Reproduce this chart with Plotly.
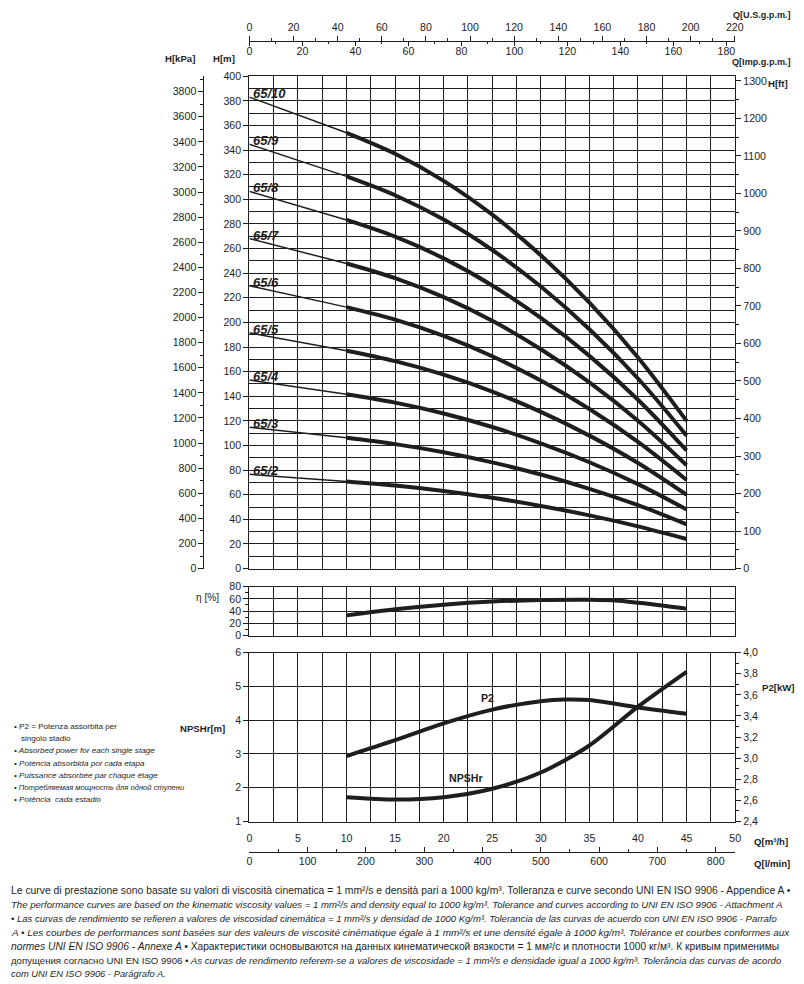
import plotly.graph_objects as go

# ---------------- DATA ----------------
Q_THIN = [0, 10]
Q_THICK = [10, 15, 20, 25, 30, 35, 40, 45]

MODELS = ["65/2", "65/3", "65/4", "65/5", "65/6", "65/7", "65/8", "65/9", "65/10"]

H_THIN_65_2 = [76.6, 70.8]
H_THIN_65_3 = [114.9, 106.2]
H_THIN_65_4 = [153.2, 141.6]
H_THIN_65_5 = [191.5, 177.0]
H_THIN_65_6 = [229.8, 212.4]
H_THIN_65_7 = [268.1, 247.8]
H_THIN_65_8 = [306.4, 283.2]
H_THIN_65_9 = [344.7, 318.6]
H_THIN_65_10 = [383.0, 354.0]

H_THICK_65_2 = [70.8, 67.4, 63.0, 57.5, 50.9, 43.2, 34.3, 24.0]
H_THICK_65_3 = [106.2, 101.1, 94.5, 86.3, 76.4, 64.8, 51.5, 36.0]
H_THICK_65_4 = [141.6, 134.8, 126.0, 115.0, 101.8, 86.4, 68.6, 48.0]
H_THICK_65_5 = [177.0, 168.5, 157.5, 143.8, 127.3, 108.0, 85.8, 60.0]
H_THICK_65_6 = [212.4, 202.2, 189.0, 172.5, 152.7, 129.6, 102.9, 72.0]
H_THICK_65_7 = [247.8, 235.9, 220.5, 201.3, 178.2, 151.2, 120.1, 84.0]
H_THICK_65_8 = [283.2, 269.6, 252.0, 230.0, 203.6, 172.8, 137.2, 96.0]
H_THICK_65_9 = [318.6, 303.3, 283.5, 258.8, 229.1, 194.4, 154.4, 108.0]
H_THICK_65_10 = [354.0, 337.0, 315.0, 287.5, 254.5, 216.0, 171.5, 120.0]

H_THIN = [H_THIN_65_2, H_THIN_65_3, H_THIN_65_4, H_THIN_65_5, H_THIN_65_6,
          H_THIN_65_7, H_THIN_65_8, H_THIN_65_9, H_THIN_65_10]
H_THICK = [H_THICK_65_2, H_THICK_65_3, H_THICK_65_4, H_THICK_65_5, H_THICK_65_6,
           H_THICK_65_7, H_THICK_65_8, H_THICK_65_9, H_THICK_65_10]

Q_ETA = [10, 15, 20, 25, 30, 35, 38, 41, 45]
ETA = [33, 43, 50.5, 55.5, 58, 58.5, 57, 52, 44]

Q_NPSH = [10, 15, 20, 25, 30, 35, 40, 45]
NPSH = [1.72, 1.65, 1.72, 1.97, 2.45, 3.25, 4.4, 5.43]

Q_P2 = [10, 15, 20, 25, 30, 32.5, 35, 40, 45]
P2 = [3.02, 3.17, 3.33, 3.46, 3.54, 3.555, 3.55, 3.48, 3.42]

BULLET_TEXT = [
    "• P2 = Potenza assorbita per",
    "singolo stadio",
    "• Absorbed power for each single stage",
    "• Potencia absorbida por cada etapa",
    "• Puissance absorbée par chaque étage",
    "• Потребляемая мощность для одной ступени",
    "• Potência  cada estadio",
]
BULLET_ITALIC = [False, False, True, True, True, True, True]

FOOTER = [
    "Le curve di prestazione sono basate su valori di viscosità cinematica = 1 mm²/s e densità pari a 1000 kg/m³. Tolleranza e curve secondo UNI EN ISO 9906 - Appendice A •",
    "<i>The performance curves are based on the kinematic viscosity values = 1 mm²/s and density equal to 1000 kg/m³. Tolerance and curves according to UNI EN ISO 9906 - Attachment A</i>",
    "<i>• Las curvas de rendimiento se refieren a valores de viscosidad cinemática = 1 mm²/s y densidad de 1000 Kg/m³. Tolerancia de las curvas de acuerdo con UNI EN ISO 9906 - Parrafo</i>",
    "<i>A • Les courbes de performances sont basées sur des valeurs de viscosité cinématique égale à 1 mm²/s et une densité égale à 1000 kg/m³. Tolérance et courbes conformes aux</i>",
    "<i>normes UNI EN ISO 9906 - Annexe A •</i> Характеристики основываются на данных кинематической вязкости = 1 мм²/с и плотности 1000 кг/м³. К кривым применимы",
    "допущения согласно UNI EN ISO 9906 <i>• As curvas de rendimento referem-se a valores de viscosidade = 1 mm²/s e densidade igual a 1000 kg/m³. Tolerância das curvas de acordo</i>",
    "<i>com UNI EN ISO 9906 - Parágrafo A.</i>",
]
FOOTER_SIZE = [10.35, 9.6, 9.5, 9.95, 10.25, 9.65, 9.4]

# unit conversions (axis scales)
Q_MAX = 50
H_MAX = 400
US_GPM = 4.40287
IMP_GPM = 3.66615
L_MIN = 16.6667
KPA = 9.80665
FT = 3.28084

# ---------------- LAYOUT HELPERS ----------------
W, HGT = 804, 984
OFF = 8
SX, AX = 0.9856, 2.6     # measured page-to-picture mapping
SY, AY = 0.988, 4.4
def px(x):
    return ((x - AX) / SX - OFF) / W
def py(y):
    return 1 - ((y - AY) / SY - OFF) / HGT

INK = "#1e1e1e"
SANS = "Liberation Sans, Arial, sans-serif"
TICKF = dict(family=SANS, size=10.6, color=INK)

XD = [px(249), px(735)]
Y_MAIN = [py(567), py(74.5)]
Y_ETA = [py(634), py(585)]
Y_NPSH = [py(820), py(651)]

fig = go.Figure()

for name, ht, hk in zip(MODELS, H_THIN, H_THICK):
    fig.add_trace(go.Scatter(x=Q_THIN, y=ht, mode="lines", line=dict(color=INK, width=1.5),
                             xaxis="x", yaxis="y", showlegend=False, hoverinfo="skip"))
    fig.add_trace(go.Scatter(x=Q_THICK, y=hk, mode="lines",
                             line=dict(color=INK, width=4, shape="spline", smoothing=1.0),
                             xaxis="x", yaxis="y", showlegend=False, name=name))
    fig.add_annotation(x=0.2, y=ht[0], xref="x", yref="y", text="<b><i>%s</i></b>" % name,
                       showarrow=False, xanchor="left", yanchor="bottom", yshift=-6,
                       font=dict(family=SANS, size=13, color=INK))

fig.add_trace(go.Scatter(x=Q_ETA, y=ETA, mode="lines",
                         line=dict(color=INK, width=4, shape="spline", smoothing=0.8),
                         xaxis="x4", yaxis="y4", showlegend=False))
fig.add_trace(go.Scatter(x=Q_NPSH, y=NPSH, mode="lines",
                         line=dict(color=INK, width=4, shape="spline", smoothing=0.8),
                         xaxis="x5", yaxis="y5", showlegend=False))
fig.add_trace(go.Scatter(x=Q_P2, y=P2, mode="lines",
                         line=dict(color=INK, width=4, shape="spline", smoothing=0.8),
                         xaxis="x5", yaxis="y6", showlegend=False))

# empty traces so auxiliary axes are registered
for xa, ya in [("x2", "y"), ("x3", "y"), ("x", "y2"), ("x", "y3"), ("x6", "y5")]:
    fig.add_trace(go.Scatter(x=[], y=[], xaxis=xa, yaxis=ya, showlegend=False))

grid = dict(showgrid=True, gridcolor=INK, gridwidth=1.2)
frame = dict(showline=True, linecolor=INK, linewidth=1.2, mirror=True, zeroline=False)

fig.update_layout(
    width=W, height=HGT, autosize=False,
    margin=dict(l=0, r=0, t=0, b=0),
    paper_bgcolor="white", plot_bgcolor="white",
    separators=",.",
    font=TICKF,
    xaxis=dict(domain=XD, anchor="y", range=[0, Q_MAX], dtick=2.5, showticklabels=False,
               ticks="", **grid, **frame),
    yaxis=dict(domain=Y_MAIN, anchor="x", range=[0, H_MAX], dtick=20, ticks="outside",
               ticklen=5, tickcolor=INK, tickfont=TICKF,
               minor=dict(dtick=10, showgrid=True, gridcolor=INK, gridwidth=1.2),
               **grid, **frame),
    yaxis2=dict(overlaying="y", anchor="free", position=px(203), side="left",
                range=[0, H_MAX * KPA], dtick=200, ticks="outside", ticklen=5, tickcolor=INK,
                minor=dict(dtick=100, ticks="outside", ticklen=3, tickcolor=INK),
                showgrid=False, showline=True, linecolor=INK, linewidth=1, zeroline=False,
                tickfont=TICKF),
    yaxis3=dict(overlaying="y", anchor="x", side="right", range=[0, H_MAX * FT], dtick=100,
                ticks="outside", ticklen=5, tickcolor=INK,
                minor=dict(dtick=50, ticks="outside", ticklen=3, tickcolor=INK),
                showgrid=False, showline=False, zeroline=False, tickfont=TICKF),
    xaxis2=dict(overlaying="x", anchor="free", position=py(39), side="top",
                range=[0, Q_MAX * US_GPM], dtick=20, ticks="outside", ticklen=5, tickcolor=INK,
                minor=dict(dtick=10, ticks="outside", ticklen=3, tickcolor=INK),
                showgrid=False, showline=True, linecolor=INK, linewidth=1, zeroline=False,
                tickfont=TICKF),
    xaxis3=dict(overlaying="x", anchor="free", position=py(39), side="bottom",
                range=[0, Q_MAX * IMP_GPM], dtick=20, ticks="outside", ticklen=4, tickcolor=INK,
                ticklabelstandoff=-3,
                minor=dict(dtick=10, ticks="outside", ticklen=2, tickcolor=INK),
                showgrid=False, showline=False, zeroline=False, tickfont=TICKF),
    xaxis4=dict(domain=XD, anchor="y4", range=[0, Q_MAX], dtick=2.5, showticklabels=False,
                ticks="", **grid, **frame),
    yaxis4=dict(domain=Y_ETA, anchor="x4", range=[0, 80], dtick=20, ticks="outside",
                ticklen=5, tickcolor=INK,
                minor=dict(dtick=10, ticks="outside", ticklen=3, tickcolor=INK, showgrid=False),
                tickfont=TICKF, **grid, **frame),
    xaxis5=dict(domain=XD, anchor="y5", range=[0, Q_MAX], dtick=5, ticks="",
                ticklabelstandoff=7, tickfont=TICKF,
                minor=dict(dtick=2.5, showgrid=True, gridcolor=INK, gridwidth=1.2),
                **grid, **frame),
    yaxis5=dict(domain=Y_NPSH, anchor="x5", range=[1, 6], dtick=1, ticks="outside",
                ticklen=5, tickcolor=INK, tickfont=TICKF, **grid, **frame),
    yaxis6=dict(overlaying="y5", anchor="x5", side="right", range=[2.4, 4.0], dtick=0.2,
                tickformat=".1f", ticks="outside", ticklen=5, tickcolor=INK,
                minor=dict(dtick=0.1, ticks="outside", ticklen=3, tickcolor=INK),
                showgrid=False, showline=False, zeroline=False, tickfont=TICKF),
    xaxis6=dict(overlaying="x5", anchor="free", position=py(850), side="bottom",
                range=[0, Q_MAX * L_MIN], dtick=100, ticks="inside", ticklen=5, tickcolor=INK,
                minor=dict(dtick=50, ticks="inside", ticklen=3, tickcolor=INK),
                showgrid=False, showline=True, linecolor=INK, linewidth=1, zeroline=False,
                tickfont=TICKF),
)

def label(text, x, y, xanchor="center", size=9.6, bold=True):
    t = "<b>%s</b>" % text if bold else text
    fig.add_annotation(x=px(x), y=py(y), xref="paper", yref="paper", text=t, showarrow=False,
                       xanchor=xanchor, yanchor="middle",
                       font=dict(family=SANS, size=size, color=INK))

label("Q[U.S.g.p.m.]", 793, 13, "right", size=9.1)
label("Q[Imp.g.p.m.]", 793, 60, "right", size=9.1)
label("H[ft]", 766, 82, "left")
label("H[kPa]", 180, 57)
label("H[m]", 224, 57)
label("η [%]", 207, 596, bold=False, size=10.1)
label("NPSHr[m]", 202, 727)
label("P2[kW]", 797, 686, "right")
label("Q[m³/h]", 752, 840, "left")
label("Q[l/min]", 752, 862, "left")

fig.add_annotation(x=24.5, y=4.67, xref="x5", yref="y5", text="<b>P2</b>", showarrow=False,
                   font=dict(family=SANS, size=10.6, color=INK))
fig.add_annotation(x=22.3, y=2.3, xref="x5", yref="y5", text="<b>NPSHr</b>", showarrow=False,
                   font=dict(family=SANS, size=10.6, color=INK))

for i, (txt, ital) in enumerate(zip(BULLET_TEXT, BULLET_ITALIC)):
    t = "<i>%s</i>" % txt if ital else txt
    x0 = 18 if i == 1 else 11
    size = 7.6 if i == 5 else 8.1
    fig.add_annotation(x=px(x0), y=py(725 + i * 12.2), xref="paper", yref="paper", text=t,
                       showarrow=False, xanchor="left", yanchor="middle",
                       font=dict(family=SANS, size=size, color=INK))

for i, (txt, size) in enumerate(zip(FOOTER, FOOTER_SIZE)):
    fig.add_annotation(x=px(8), y=py(889 + i * 13.9), xref="paper", yref="paper", text=txt,
                       showarrow=False, xanchor="left", yanchor="middle",
                       font=dict(family=SANS, size=size, color=INK))

fig.write_html("out.html")
